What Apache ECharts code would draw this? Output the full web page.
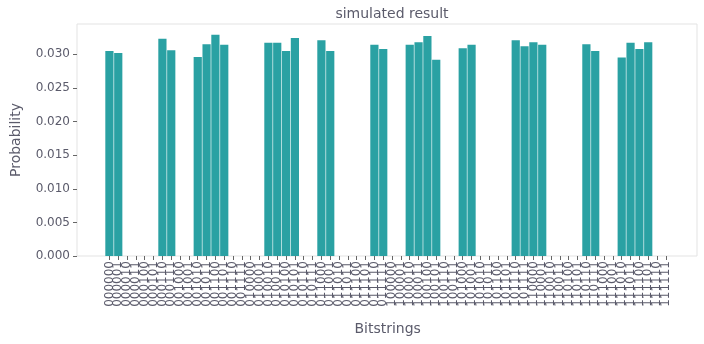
<!DOCTYPE html>
<html>
<head>
<meta charset="utf-8">
<style>
  html, body { margin: 0; padding: 0; background: #ffffff; }
  #chart { width: 704px; height: 344px; }
</style>
<script src="https://cdn.jsdelivr.net/npm/echarts@6/dist/echarts.min.js"></script>
</head>
<body>
<div id="chart"></div>
<script>
// All 6-bit outcomes, in order, used as the category axis
const bitstrings = [];
for (let i = 0; i < 64; i++) bitstrings.push(i.toString(2).padStart(6, '0'));

// Outcomes that were observed and their probabilities
const observed = [
  '000000', '000001', '000110', '000111', '001010', '001011', '001100', '001101',
  '010010', '010011', '010100', '010101', '011000', '011001', '011110', '011111',
  '100010', '100011', '100100', '100101', '101000', '101001', '101110', '101111',
  '110000', '110001', '110110', '110111', '111010', '111011', '111100', '111101'
];
const probability = [
  0.0305, 0.0302, 0.0323, 0.0306, 0.0296, 0.0315, 0.0329, 0.0314,
  0.0317, 0.0317, 0.0305, 0.0324, 0.0321, 0.0305, 0.0314, 0.0308,
  0.0314, 0.0318, 0.0327, 0.0292, 0.0309, 0.0314, 0.0321, 0.0312,
  0.0318, 0.0314, 0.0315, 0.0305, 0.0295, 0.0317, 0.0308, 0.0318
];

const yTicks = [0, 0.005, 0.010, 0.015, 0.020, 0.025, 0.030];
const yMax = 0.0345;

const textColor = '#5b5b6b';
const font = 'DejaVu Sans';

const chart = echarts.init(document.getElementById('chart'), null, { renderer: 'canvas' });

chart.setOption({
  backgroundColor: '#ffffff',
  animation: false,
  title: {
    text: 'simulated result',
    left: 387,
    top: 2,
    textAlign: 'center',
    textStyle: { fontFamily: font, fontSize: 14, fontWeight: 'normal', color: textColor }
  },
  grid: [
    // outer plot frame, carries the probability axis
    { left: 77, right: 7, top: 24, bottom: 88, show: true, borderColor: '#e3e3e3', borderWidth: 1, backgroundColor: 'transparent' },
    // band area for the 64 bitstring categories
    { left: 105, right: 33.7, top: 24, bottom: 88 }
  ],
  xAxis: [
    { gridIndex: 0, type: 'value', show: false, min: 0, max: 1 },
    {
      gridIndex: 1,
      type: 'category',
      data: bitstrings,
      boundaryGap: true,
      name: 'Bitstrings',
      nameLocation: 'middle',
      nameGap: 66,
      nameTextStyle: { fontFamily: font, fontSize: 14, color: textColor },
      axisLine: { show: false },
      axisTick: { show: true, alignWithLabel: true, interval: 0, length: 4, lineStyle: { color: '#666' } },
      axisLabel: {
        interval: 0, rotate: 90, margin: 5,
        fontFamily: font, fontSize: 12, color: textColor
      },
      splitLine: { show: false }
    }
  ],
  yAxis: [
    {
      gridIndex: 0,
      type: 'value',
      min: 0,
      max: yMax,
      name: 'Probability',
      nameLocation: 'middle',
      nameGap: 54,
      nameTextStyle: { fontFamily: font, fontSize: 14, color: textColor },
      axisLine: { show: false },
      axisTick: { show: true, length: 4, customValues: yTicks, lineStyle: { color: '#666' } },
      axisLabel: {
        customValues: yTicks, margin: 7,
        fontFamily: font, fontSize: 12, color: textColor,
        formatter: v => v.toFixed(3)
      },
      splitLine: { show: false }
    },
    { gridIndex: 1, type: 'value', min: 0, max: yMax, show: false }
  ],
  series: [
    {
      type: 'bar',
      xAxisIndex: 1,
      yAxisIndex: 1,
      barCategoryGap: '7%',
      itemStyle: { color: '#2aa1a3' },
      data: observed.map((b, i) => [b, probability[i]])
    }
  ]
});
</script>
</body>
</html>
